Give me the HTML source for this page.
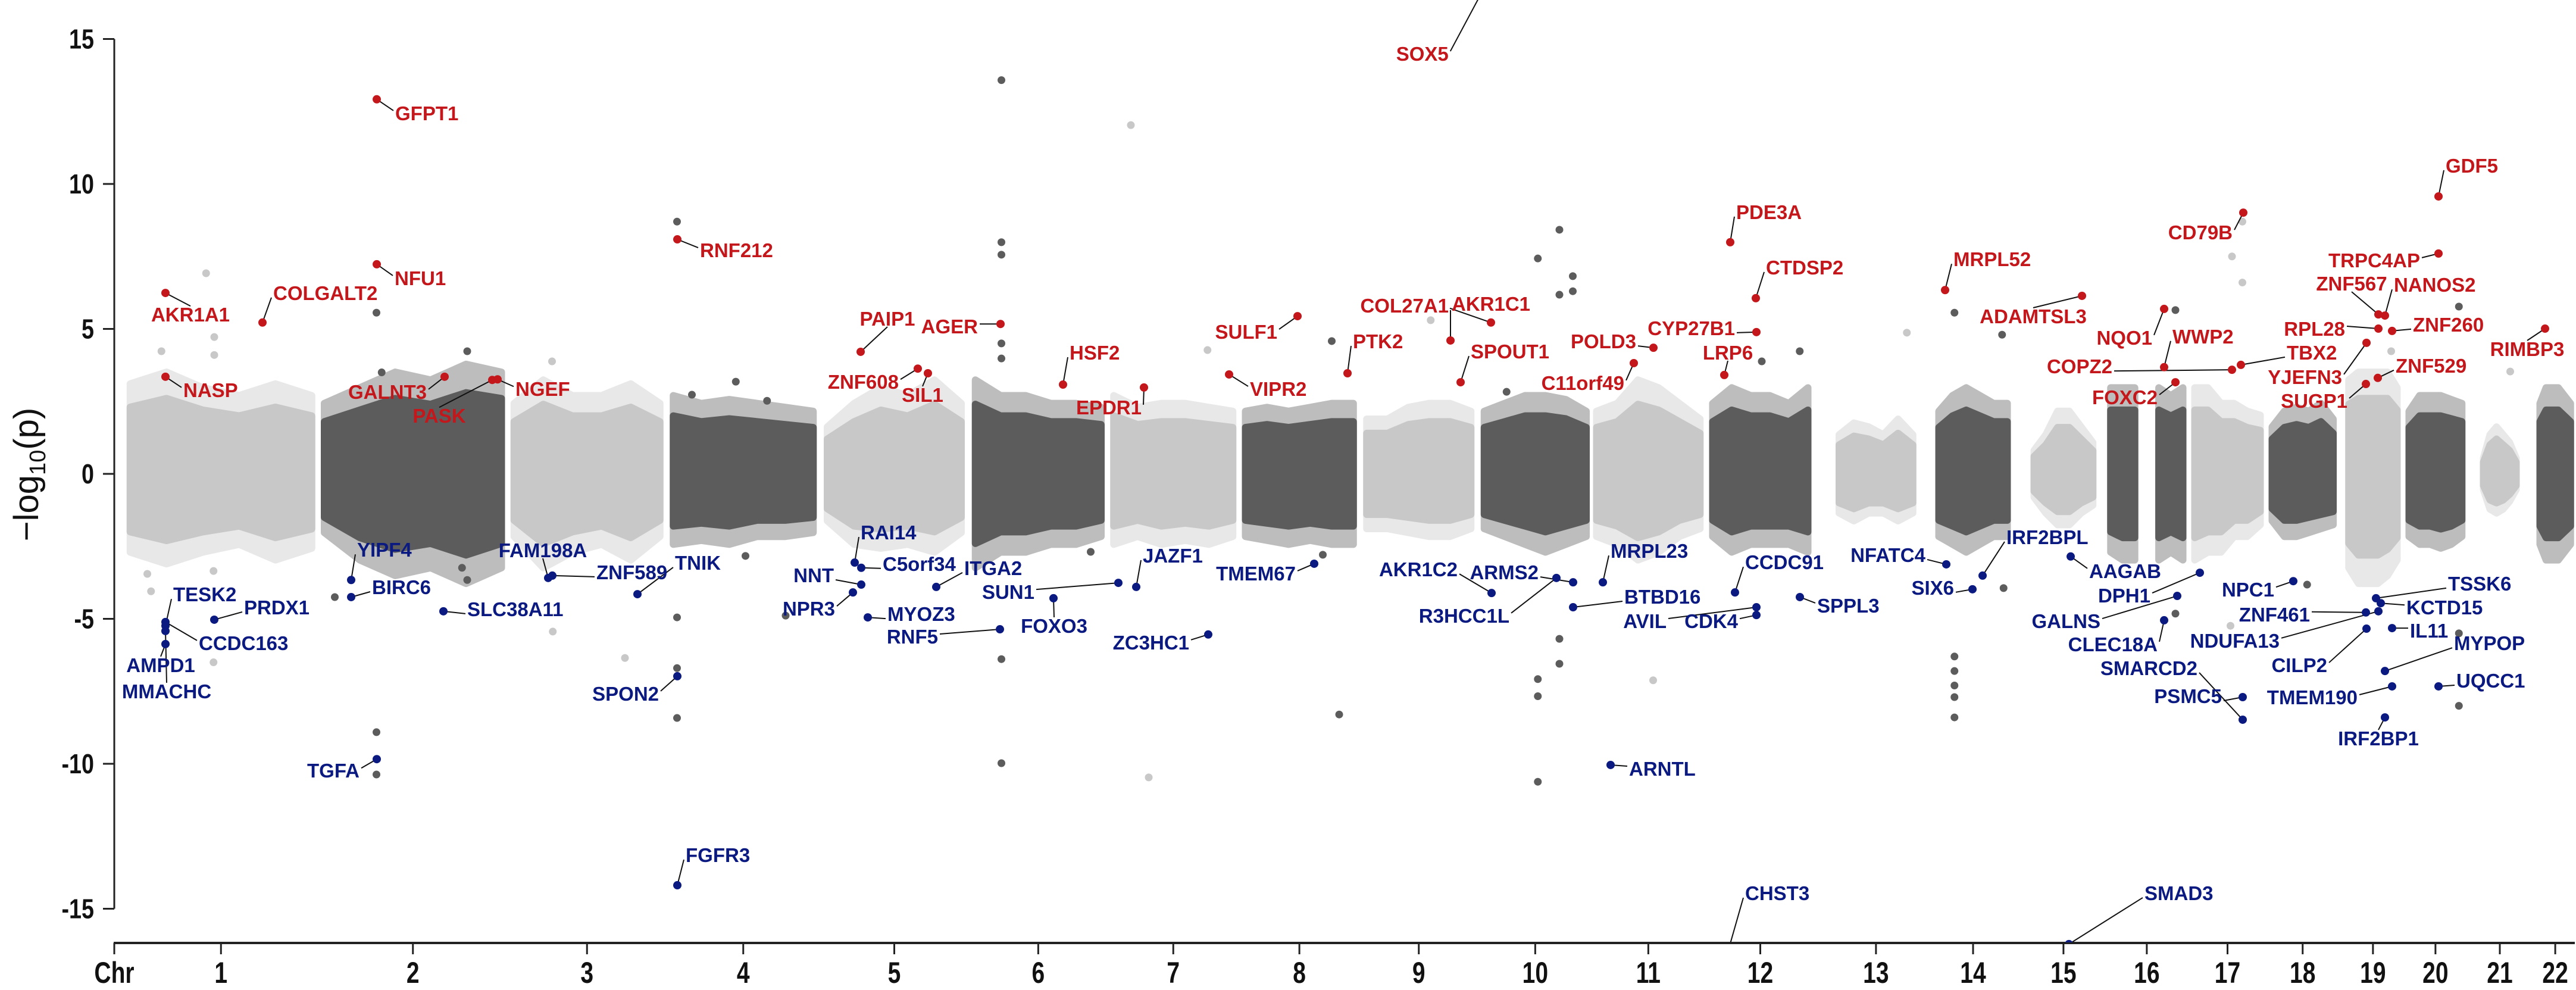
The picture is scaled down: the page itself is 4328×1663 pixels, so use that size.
<!DOCTYPE html>
<html><head><meta charset="utf-8"><title>Manhattan plot</title>
<style>html,body{margin:0;padding:0;background:#fff}svg{display:block}text{font-family:"Liberation Sans",Arial,sans-serif}</style>
</head><body>
<svg id="chart" width="4328" height="1663" viewBox="0 0 4328 1663" xmlns="http://www.w3.org/2000/svg">
<defs><clipPath id="plotclip"><rect x="192" y="0" width="4136" height="1583"/></clipPath></defs>
<g id="axes"></g>
<g id="clouds" clip-path="url(#plotclip)"></g>
<g id="outliers" clip-path="url(#plotclip)"></g>
<g id="genes"></g>
</svg>
<script>
// ---- data ----
const chrNames = ["1","2","3","4","5","6","7","8","9","10","11","12","13","14","15","16","17","18","19","20","21","22"];
const chrStart = [3,264,519,733,940,1139,1325,1502,1665,1823,1974,2130,2300,2434,2562,2665,2778,2882,2985,3066,3166,3242];
const chrEnd   = [247,502,715,921,1120,1308,1485,1647,1805,1960,2113,2258,2399,2526,2641,2762,2866,2964,3050,3137,3210,3283];
const chrUpper = [
 [2.3,2.6,2.2,2.0,2.3,2.0],[1.8,2.2,2.6,2.4,2.8,2.6],[1.8,2.4,2.0,2.0,2.3,1.8],[2.0,1.8,1.9,1.8,1.7,1.6],
 [1.2,1.8,2.2,2.0,2.4,1.8],[2.4,2.0,2.0,1.8,1.8,1.7],[2.0,1.7,1.8,1.8,1.7,1.6],[1.6,1.7,1.6,1.7,1.8,1.8],
 [1.4,1.4,1.7,1.8,1.8,1.6],[1.6,1.8,2.0,2.0,1.9,1.6],[1.6,1.8,2.4,2.2,1.8,1.4],[1.8,2.2,2.0,2.0,1.8,2.2],
 [1.0,1.3,1.2,1.0,1.4,1.0],[1.6,2.0,2.2,2.0,1.8,1.8],[0.6,1.0,1.6,1.6,1.2,0.8],[2.2,2.2,2.2,null,2.2,2.0,2.2],
 [2.2,2.2,1.8,1.8,1.6,1.5],[1.2,1.6,1.7,1.6,1.8,1.4],[2.4,2.6,2.6,2.6,2.6,2.2],[1.6,2.0,2.0,2.0,1.9,1.8],
 [0.4,1.0,1.2,1.0,0.8,0.4],[1.8,2.2,2.2,2.2,2.0,1.8]];
const chrLower = [
 [-2.0,-2.3,-2.0,-1.8,-2.2,-1.9],[-1.5,-2.2,-2.6,-2.4,-2.8,-2.4],[-1.6,-2.4,-2.0,-1.8,-2.2,-1.6],[-1.8,-1.7,-1.8,-1.6,-1.6,-1.5],
 [-1.2,-1.8,-1.9,-1.8,-2.0,-1.5],[-2.4,-2.0,-2.0,-1.8,-1.8,-1.6],[-1.8,-1.6,-1.8,-1.7,-1.8,-1.6],[-1.6,-1.7,-1.8,-1.7,-1.8,-1.8],
 [-1.4,-1.4,-1.5,-1.6,-1.6,-1.4],[-1.4,-1.6,-1.8,-2.0,-1.8,-1.6],[-1.6,-1.8,-2.2,-2.0,-1.6,-1.4],[-1.6,-2.0,-1.8,-1.8,-1.8,-2.0],
 [-1.0,-1.2,-1.0,-1.0,-1.2,-1.0],[-1.6,-1.8,-2.0,-1.8,-1.6,-1.6],[-0.6,-1.0,-1.3,-1.3,-1.0,-0.8],[-2.0,-2.2,-2.2,null,-2.2,-2.0,-2.2],
 [-2.2,-2.0,-2.0,-1.6,-1.6,-1.3],[-1.2,-1.6,-1.6,-1.5,-1.4,-1.3],[-2.4,-2.8,-2.8,-2.8,-2.6,-2.2],[-1.6,-1.8,-1.8,-1.9,-1.8,-1.6],
 [-0.4,-0.9,-1.0,-0.9,-0.7,-0.4],[-1.8,-2.2,-2.2,-2.2,-2.0,-1.8]];
const yTicks = [15,10,5,0,-5,-10,-15];
// background outlier points: cumulative position, -log10 p (signed)
const bgPos = [105,116,116,26,31,115,115,45, 334,456,341,456,278,334,334,482,449, 571,668,570,
 738,738,738,738,817,758,830,859,884, 1174,1174,1174,1174,1174,1174,1174, 1348,1372,1294, 1628,1618,1606,1451,1751,
 1895,1924,1924,1942,1942,1895,1895,1895,1924,1924,1853, 2050,2391, 2247,2196, 2455,2455,2455,2455,2455,2455, 2519,2521,
 2752,2752, 2842,2842,2828,2826, 2929, 3042, 3133,3133,3133, 3202];
const bgVal = [6.92,4.72,4.1,-3.45,-4.05,-3.35,-6.5,4.23, 5.56,4.23,3.5,-3.66,-4.25,-8.91,-10.37,-2.3,-3.24, -5.44,-6.35,3.88,
 8.70,-4.95,-6.7,-8.42,3.18,2.73,-2.83,2.52,-4.89, 13.58,7.99,7.56,-9.98,-6.39,3.98,4.5, 12.03,-10.47,-2.69, -8.3,4.58,-2.79,4.27,5.3,
 7.43,8.42,6.18,6.82,6.3,-7.08,-7.67,-10.62,-5.69,-6.55,2.83, -7.12,4.87, 4.23,3.88, -6.3,-6.8,-7.3,-7.7,-8.4,5.56, 4.8,-3.94,
 5.65,-4.82, 8.7,6.6,7.5,-5.24, -3.82, 4.23, 5.77,-8.0,-5.5, 3.53];
// annotated genes (positive = red, negative = blue)
const geneNames = ["AKR1A1","NASP","COLGALT2","GFPT1","NFU1","GALNT3","PASK","NGEF","RNF212","PAIP1","AGER","ZNF608","SIL1","HSF2","EPDR1","SULF1","VIPR2","PTK2","SOX5","COL27A1","AKR1C1","SPOUT1","POLD3","C11orf49","PDE3A","CTDSP2","CYP27B1","LRP6","MRPL52","ADAMTSL3","NQO1","WWP2","COPZ2","FOXC2","CD79B","TBX2","YJEFN3","RPL28","TRPC4AP","ZNF567","NANOS2","ZNF260","GDF5","ZNF529","SUGP1","RIMBP3",
 "TESK2","PRDX1","CCDC163","AMPD1","MMACHC","YIPF4","BIRC6","SLC38A11","FAM198A","ZNF589","TNIK","SPON2","TGFA","FGFR3","RAI14","C5orf34","NNT","NPR3","ITGA2","MYOZ3","RNF5","SUN1","FOXO3","JAZF1","ZC3HC1","TMEM67","AKR1C2","R3HCC1L","ARMS2","MRPL23","BTBD16","ARNTL","CCDC91","AVIL","CDK4","SPPL3","CHST3","NFATC4","SIX6","IRF2BPL","AAGAB","DPH1","GALNS","CLEC18A","SMARCD2","PSMC5","NPC1","ZNF461","NDUFA13","CILP2","TSSK6","KCTD15","IL11","MYPOP","TMEM190","IRF2BP1","UQCC1","SMAD3"];
const genePos = [50.4,50.4,180.8,334.4,334.4,425.6,489.6,496.8,738.4,984.8,1172.8,1061.6,1075.2,1256.8,1365.6,1572,1480,1639.2,1827,1777.6,1832,1791.2,2050.4,2024,2153.6,2188,2188.8,2145.6,2442.4,2626.4,2736.8,2736.8,2828,2752,2843.2,2840,3008.8,3024.8,3105.6,3024.8,3033.6,3043.2,3105.6,3024,3008,3248.8,
 50.4,116,50.4,50.4,50.4,300,300,424,564.8,570.4,684.8,738.4,334.4,738.4,976.8,985.6,985.6,974.4,1086.4,994.4,1172,1331.2,1244,1355.2,1452,1594.4,1832.8,1920,1942.4,1982.4,1942.4,1992.8,2160,2188.8,2188.8,2247.2,2145.6,2444,2479.2,2492.8,2611.2,2784.8,2754.4,2736.8,2842.4,2842.4,2910.4,3008,3024.8,3008.8,3021.6,3028,3043.2,3033.6,3043.2,3033.6,3105.6,2608.8];
const geneVal = [6.24,3.35,5.22,12.92,7.23,3.35,3.24,3.26,8.09,4.21,5.17,3.63,3.47,3.08,2.98,5.44,3.43,3.47,16.96,4.60,5.22,3.16,4.35,3.82,7.99,6.06,4.89,3.41,6.34,6.14,5.69,3.68,3.59,3.16,9.01,3.76,4.52,5.01,7.60,5.50,5.46,4.93,9.57,3.31,3.10,5.01,
 -5.24,-5.03,-5.11,-5.87,-5.42,-3.66,-4.25,-4.74,-3.59,-3.51,-4.15,-6.98,-9.84,-14.19,-3.06,-3.24,-3.82,-4.09,-3.90,-4.95,-5.36,-3.76,-4.29,-3.90,-5.54,-3.10,-4.11,-3.59,-3.74,-3.74,-4.60,-10.04,-4.09,-4.60,-4.87,-4.25,-16.92,-3.12,-3.98,-3.51,-2.85,-3.41,-4.21,-5.05,-8.48,-7.70,-3.70,-4.78,-4.74,-5.34,-4.29,-4.46,-5.32,-6.80,-7.33,-8.40,-7.33,-16.22];
// label layout (pixel offsets from point; anchor)
const labelLayout = [
 [42,36,"middle"],[30,22,"start"],[18,-50,"start"],[31,23,"start"],[30,23,"start"],[-30,25,"end"],[-89,60,"middle"],[30,16,"start"],[38,18,"start"],[45,-56,"middle"],[-38,4,"end"],[-32,22,"end"],[-9,36,"middle"],[11,-54,"start"],[-4,33,"end"],[-34,26,"end"],[35,24,"start"],[9,-54,"start"],[-65,120,"end"],[-3,-59,"end"],[-66,-32,"start"],[17,-52,"start"],[-29,-11,"end"],[-16,33,"end"],[10,-51,"start"],[17,-52,"start"],[-36,-7,"end"],[6,-38,"middle"],[14,-52,"start"],[-82,34,"middle"],[-20,48,"end"],[14,-52,"start"],[-201,-6,"end"],[-30,25,"end"],[-18,33,"end"],[77,-21,"start"],[-41,57,"end"],[-56,0,"end"],[-31,11,"end"],[-45,-52,"middle"],[15,-52,"start"],[35,-11,"start"],[12,-52,"start"],[30,-21,"start"],[-31,28,"end"],[-30,34,"middle"],
 [13,-53,"start"],[50,-21,"start"],[56,35,"start"],[-8,35,"middle"],[2,101,"middle"],[10,-51,"start"],[35,-17,"start"],[40,-4,"start"],[-9,-47,"middle"],[74,-6,"start"],[63,-53,"start"],[-31,29,"end"],[-29,19,"end"],[14,-51,"start"],[10,-51,"start"],[36,-7,"start"],[-46,-16,"end"],[-30,27,"end"],[47,-32,"start"],[33,-6,"start"],[-104,12,"end"],[-141,15,"end"],[1,46,"middle"],[11,-53,"start"],[-32,13,"end"],[-31,16,"end"],[-57,-40,"end"],[-79,63,"end"],[-58,-17,"end"],[13,-53,"start"],[86,-18,"start"],[31,6,"start"],[17,-51,"start"],[-151,23,"end"],[-31,10,"end"],[29,14,"start"],[35,-120,"start"],[-35,-16,"end"],[-31,-3,"end"],[40,-65,"start"],[31,24,"start"],[-83,38,"end"],[-129,42,"end"],[-11,40,"end"],[-76,-87,"end"],[-35,-2,"end"],[-32,14,"end"],[-94,3,"end"],[-166,49,"end"],[-66,61,"end"],[121,-25,"start"],[43,7,"start"],[30,4,"start"],[116,-47,"start"],[-58,18,"end"],[-11,35,"middle"],[30,-10,"start"],[127,-86,"start"]];

// ---- scales ----
const X0 = 215, KX = 1.25, Y0 = 796, KY = 48.7;
const xs = u => X0 + u * KX;
const ys = v => Y0 - v * KY;
const NS = "http://www.w3.org/2000/svg";
function mk(tag, attrs, parent) { const e = document.createElementNS(NS, tag); for (const k in attrs) e.setAttribute(k, attrs[k]); parent.appendChild(e); return e; }
const LIGHT = "#c8c8c8", DARK = "#5c5c5c", RED = "#c3171b", BLUE = "#0b1a80";

// ---- axes ----
const axes = document.getElementById("axes");
const yAxis = mk("line", {x1:192, y1:ys(15), x2:192, y2:ys(-15), stroke:"#222", "stroke-width":3}, axes);


yTicks.forEach(t => {
  const tk = mk("line", {x1:173, y1:ys(t), x2:192, y2:ys(t), stroke:"#222", "stroke-width":3}, axes);
  
  
  const lb = mk("text", {transform:`translate(158,${ys(t)+16}) scale(0.82,1)`, "text-anchor":"end", "font-size":46, "font-weight":"bold", fill:"#111"}, axes);
  lb.textContent = t;
  
  
});
const yt = mk("text", {transform:`translate(64,797) rotate(-90)`, "text-anchor":"middle", "font-size":58, fill:"#111"}, axes);


yt.innerHTML = '−log<tspan font-size="38" dy="12">10</tspan><tspan dy="-12">(p)</tspan>';

const xAxis = mk("line", {x1:191, y1:1584, x2:4326, y2:1584, stroke:"#222", "stroke-width":4}, axes);


function xTick(px, txt, name) {
  const tk = mk("line", {x1:px, y1:1584, x2:px, y2:1603, stroke:"#222", "stroke-width":3}, axes);
  
  
  const lb = mk("text", {transform:`translate(${px},1651) scale(0.78,1)`, "text-anchor":"middle", "font-size":50, "font-weight":"bold", fill:"#111"}, axes);
  lb.textContent = txt;
  
  
}
xTick(192, "Chr", "x-axis-title");
chrNames.forEach((c, i) => xTick(xs((chrStart[i] + chrEnd[i]) / 2), c, "chromosome-label"));

// ---- clouds ----
const clouds = document.getElementById("clouds");
function cloudRuns(i) {
  const up = chrUpper[i], lo = chrLower[i], n = up.length;
  const s = chrStart[i], e = chrEnd[i];
  const runs = []; let cur = [];
  for (let k = 0; k < n; k++) {
    if (up[k] === null) { if (cur.length) runs.push(cur); cur = []; continue; }
    cur.push({u: s + (e - s) * k / (n - 1), a: up[k], b: lo[k]});
  }
  if (cur.length) runs.push(cur);
  return runs;
}
function drawRun(run, scale, col, opacity, name) {
  const pts = [];
  run.forEach(p => pts.push([xs(p.u), ys(p.a * scale)]));
  for (let k = run.length - 1; k >= 0; k--) pts.push([xs(run[k].u), ys(run[k].b * scale)]);
  const p = mk("polygon", {points: pts.map(q => q.join(",")).join(" "), fill: col, stroke: col, "stroke-width": 12, "stroke-linejoin": "round", opacity: opacity}, clouds);
  
  
}
chrNames.forEach((c, i) => {
  const col = i % 2 === 0 ? LIGHT : DARK;
  cloudRuns(i).forEach(run => {
    drawRun(run, 1.35, col, 0.4, 'chr' + c + '-fringe');
    drawRun(run, 1.0, col, 1, 'chr' + c + '-points');
  });
});

// ---- background outliers ----
const outl = document.getElementById("outliers");
function chrIndexOf(u) { for (let i = 0; i < chrStart.length; i++) if (u <= chrEnd[i] + 10) return i; return chrStart.length - 1; }
bgPos.forEach((u, i) => {
  const ci = chrIndexOf(u);
  const d = mk("circle", {cx: xs(u), cy: ys(bgVal[i]), r: 6.5, fill: ci % 2 === 0 ? LIGHT : DARK}, outl);
  
  
});

// ---- annotated genes ----
const genes = document.getElementById("genes");
const gLines = mk("g", {"clip-path": "url(#plotclip)"}, genes);


const gDots = mk("g", {"clip-path": "url(#plotclip)"}, genes);


geneNames.forEach((name, i) => {
  const px = xs(genePos[i]), py = ys(geneVal[i]);
  const [dx, dy, anc] = labelLayout[i];
  const lx = px + dx, ly = py + dy;
  const col = geneVal[i] > 0 ? RED : BLUE;
  let ex = lx, ey = ly;
  if (anc === "start") { ex = lx - 3; ey = ly + (dy < 0 ? 8 : -4); }
  else if (anc === "end") { ex = lx + 3; ey = ly + (dy < 0 ? 8 : -4); }
  else { ey = ly + (dy < 0 ? 14 : -14); }
  const ln = mk("line", {x1: px, y1: py, x2: ex, y2: ey, stroke: "#111", "stroke-width": 2}, gLines);
  
  
  const dot = mk("circle", {cx: px, cy: py, r: 7, fill: col}, gDots);
  
  
  const t = mk("text", {x: lx, y: ly + 12, "text-anchor": anc, "font-size": 33, "font-weight": "bold", fill: col}, genes);
  t.textContent = name;
  
  
});
</script>
</body></html>
